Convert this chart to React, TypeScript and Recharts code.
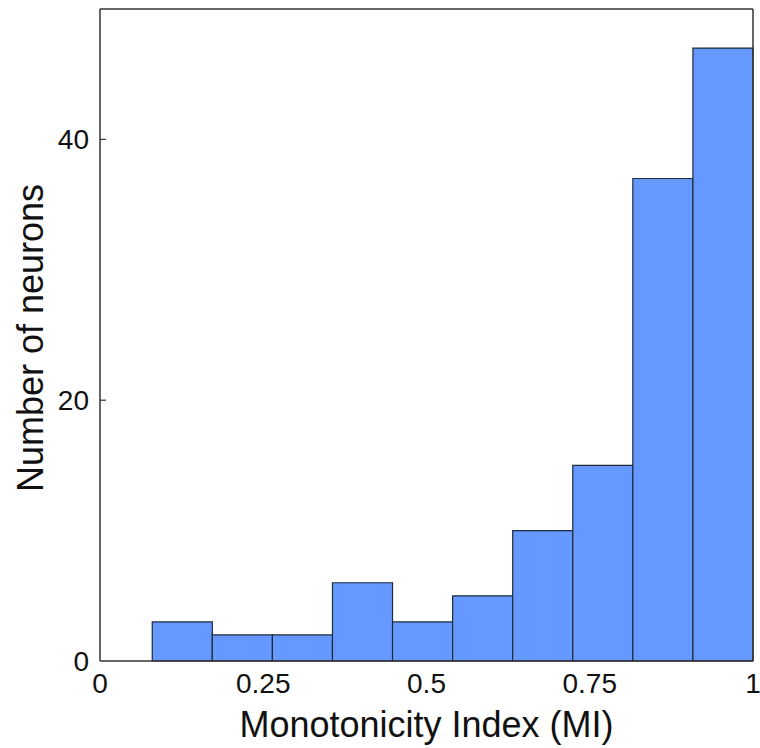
import React from "react";
import { ComposedChart, XAxis, YAxis, ReferenceArea, ReferenceLine, Label, Line } from "recharts";

const binEdges = [0.08, 0.172, 0.264, 0.356, 0.448, 0.54, 0.632, 0.724, 0.816, 0.908, 1.0];
const counts = [3, 2, 2, 6, 3, 5, 10, 15, 37, 47];
const xTicks = [0, 0.25, 0.5, 0.75, 1];
const xTickLabels = ["0", "0.25", "0.5", "0.75", "1"];
const yTicks = [0, 20, 40];
const xDomain = [0, 1];
const yDomain = [0, 50];

const bins = counts.map((c, i) => ({
  x1: binEdges[i],
  x2: binEdges[i + 1],
  x: (binEdges[i] + binEdges[i + 1]) / 2,
  count: c,
}));

const FONT = "Liberation Sans, Arial, Helvetica, sans-serif";

const YTick = (props: any) => {
  const { x, y, payload } = props;
  return (
    <g>
      {payload.value !== 0 && (
        <line x1={x} y1={y} x2={x + 6} y2={y} stroke="#333" strokeWidth={1.2} />
      )}
      <text x={x - 11} y={y} dy="0.36em" textAnchor="end" fontSize={28} fontFamily={FONT} fill="#111">
        {payload.value}
      </text>
    </g>
  );
};

const XTick = (props: any) => {
  const { x, payload } = props;
  const idx = xTicks.indexOf(payload.value);
  return (
    <text x={x} y={693} textAnchor="middle" fontSize={28} fontFamily={FONT} fill="#111">
      {idx >= 0 ? xTickLabels[idx] : payload.value}
    </text>
  );
};

export default function App() {
  return (
    <div style={{ position: "absolute", left: 0, top: 0, width: 760, height: 748, background: "#fff" }}>
      <ComposedChart
        width={760}
        height={748}
        data={bins}
        margin={{ top: 9, right: 7, bottom: 7, left: 0 }}
      >
        <XAxis
          dataKey="x"
          type="number"
          domain={xDomain}
          allowDataOverflow
          ticks={xTicks}
          tick={<XTick />}
          tickLine={false}
          axisLine={{ stroke: "#333", strokeWidth: 1.5 }}
          height={80}
          interval={0}
        >
          <Label
            content={(p: any) => {
              const vb = p.viewBox;
              return (
                <text x={vb.x + vb.width / 2} y={737} textAnchor="middle" fontSize={36} fontFamily={FONT} fill="#111">
                  Monotonicity Index (MI)
                </text>
              );
            }}
          />
        </XAxis>
        <YAxis
          type="number"
          domain={yDomain}
          allowDataOverflow
          ticks={yTicks}
          tick={<YTick />}
          tickLine={false}
          tickSize={0}
          tickMargin={0}
          width={100}
          axisLine={{ stroke: "#333", strokeWidth: 1.5 }}
          interval={0}
        >
          <Label
            content={(p: any) => {
              const vb = p.viewBox;
              const cy = vb.y + vb.height / 2 + 3;
              return (
                <text
                  x={43}
                  y={cy}
                  transform={`rotate(-90 43 ${cy})`}
                  textAnchor="middle"
                  fontSize={36}
                  fontFamily={FONT}
                  fill="#111"
                >
                  Number of neurons
                </text>
              );
            }}
          />
        </YAxis>
        <Line
          dataKey="count"
          stroke="none"
          dot={false}
          activeDot={false}
          isAnimationActive={false}
          legendType="none"
        />
        {bins.map((b, i) => (
          <ReferenceArea
            key={i}
            x1={b.x1}
            x2={b.x2}
            y1={0}
            y2={b.count}
            fill="#6699ff"
            fillOpacity={1}
            stroke="#1f2a3a"
            strokeWidth={1.2}
            ifOverflow="visible"
          />
        ))}
        <ReferenceLine y={yDomain[1]} stroke="#333" strokeWidth={1.5} ifOverflow="visible" />
        <ReferenceLine x={xDomain[1]} stroke="#333" strokeWidth={1.5} ifOverflow="visible" />
      </ComposedChart>
    </div>
  );
}
